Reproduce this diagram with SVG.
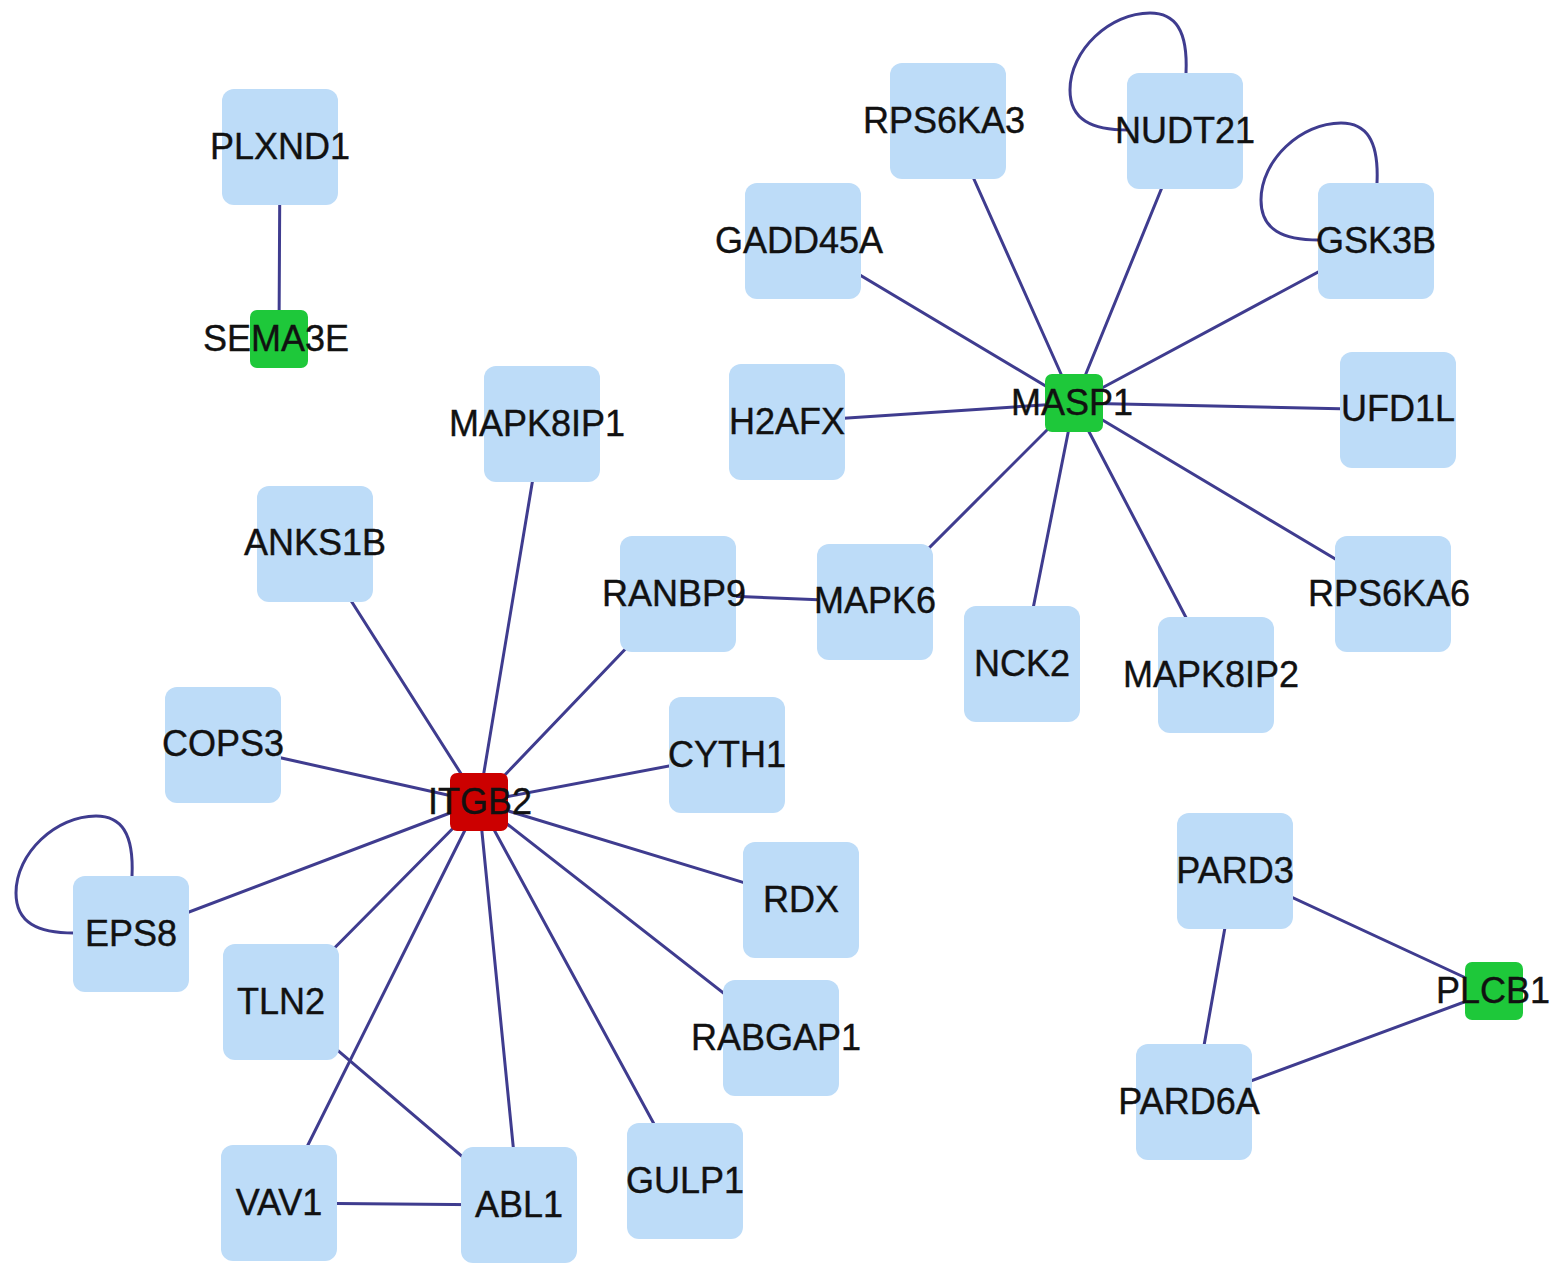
<svg xmlns="http://www.w3.org/2000/svg" width="1559" height="1278" viewBox="0 0 1559 1278">
<style>
.e{stroke:#3f3c8f;stroke-width:3;fill:none;stroke-linecap:round}
.n rect{fill:#bddcf8}
.n rect.g{fill:#1ec83a}
.n rect.r{fill:#cc0000}
.n text{font-family:"Liberation Sans",Arial,sans-serif;font-size:36px;fill:#111;stroke:#111;stroke-width:0.4;text-anchor:middle}
</style>
<defs>
<path id="loop" d="M1186,73 C1188,30 1175,13 1150,13 C1110,13 1070,50 1070,90 C1070,120 1092,130 1128,130"/>
</defs>
<rect width="1559" height="1278" fill="#ffffff"/>
<g id="edges">
<line class="e" x1="280" y1="147" x2="279" y2="339"/>
<line class="e" x1="1074" y1="403" x2="948" y2="121"/>
<line class="e" x1="1074" y1="403" x2="1185" y2="131"/>
<line class="e" x1="1074" y1="403" x2="803" y2="241"/>
<line class="e" x1="1074" y1="403" x2="1376" y2="241"/>
<line class="e" x1="1074" y1="403" x2="787" y2="422"/>
<line class="e" x1="1074" y1="403" x2="1398" y2="410"/>
<line class="e" x1="1074" y1="403" x2="875" y2="602"/>
<line class="e" x1="1074" y1="403" x2="1022" y2="664"/>
<line class="e" x1="1074" y1="403" x2="1216" y2="675"/>
<line class="e" x1="1074" y1="403" x2="1394" y2="594"/>
<line class="e" x1="678" y1="594" x2="875" y2="602"/>
<line class="e" x1="479" y1="802" x2="542" y2="424"/>
<line class="e" x1="479" y1="802" x2="315" y2="544"/>
<line class="e" x1="479" y1="802" x2="678" y2="594"/>
<line class="e" x1="479" y1="802" x2="223" y2="745"/>
<line class="e" x1="479" y1="802" x2="727" y2="755"/>
<line class="e" x1="479" y1="802" x2="131" y2="934"/>
<line class="e" x1="479" y1="802" x2="801" y2="900"/>
<line class="e" x1="479" y1="802" x2="281" y2="1002"/>
<line class="e" x1="479" y1="802" x2="781" y2="1038"/>
<line class="e" x1="479" y1="802" x2="279" y2="1203"/>
<line class="e" x1="479" y1="802" x2="519" y2="1205"/>
<line class="e" x1="479" y1="802" x2="685" y2="1181"/>
<line class="e" x1="281" y1="1002" x2="519" y2="1205"/>
<line class="e" x1="279" y1="1203" x2="519" y2="1205"/>
<line class="e" x1="1235" y1="871" x2="1494" y2="991"/>
<line class="e" x1="1235" y1="871" x2="1194" y2="1102"/>
<line class="e" x1="1194" y1="1102" x2="1494" y2="991"/>
<use href="#loop" class="e"/>
<use href="#loop" class="e" transform="translate(191,110)"/>
<use href="#loop" class="e" transform="translate(-1054,803)"/>
</g>
<g class="n" id="PLXND1"><rect x="222" y="89" width="116" height="116" rx="12"/><text x="280" y="159">PLXND1</text></g>
<g class="n" id="SEMA3E"><rect class="g" x="250" y="310" width="58" height="58" rx="7"/><text x="276" y="351">SEMA3E</text></g>
<g class="n" id="RPS6KA3"><rect x="890" y="63" width="116" height="116" rx="12"/><text x="944" y="133">RPS6KA3</text></g>
<g class="n" id="NUDT21"><rect x="1127" y="73" width="116" height="116" rx="12"/><text x="1185" y="143">NUDT21</text></g>
<g class="n" id="GADD45A"><rect x="745" y="183" width="116" height="116" rx="12"/><text x="799" y="253">GADD45A</text></g>
<g class="n" id="GSK3B"><rect x="1318" y="183" width="116" height="116" rx="12"/><text x="1376" y="253">GSK3B</text></g>
<g class="n" id="H2AFX"><rect x="729" y="364" width="116" height="116" rx="12"/><text x="787" y="434">H2AFX</text></g>
<g class="n" id="MASP1"><rect class="g" x="1045" y="374" width="58" height="58" rx="7"/><text x="1072" y="415">MASP1</text></g>
<g class="n" id="UFD1L"><rect x="1340" y="352" width="116" height="116" rx="12"/><text x="1398" y="421">UFD1L</text></g>
<g class="n" id="MAPK8IP1"><rect x="484" y="366" width="116" height="116" rx="12"/><text x="537" y="436">MAPK8IP1</text></g>
<g class="n" id="ANKS1B"><rect x="257" y="486" width="116" height="116" rx="12"/><text x="315" y="555">ANKS1B</text></g>
<g class="n" id="RANBP9"><rect x="620" y="536" width="116" height="116" rx="12"/><text x="674" y="606">RANBP9</text></g>
<g class="n" id="MAPK6"><rect x="817" y="544" width="116" height="116" rx="12"/><text x="875" y="613">MAPK6</text></g>
<g class="n" id="NCK2"><rect x="964" y="606" width="116" height="116" rx="12"/><text x="1022" y="676">NCK2</text></g>
<g class="n" id="MAPK8IP2"><rect x="1158" y="617" width="116" height="116" rx="12"/><text x="1211" y="687">MAPK8IP2</text></g>
<g class="n" id="RPS6KA6"><rect x="1335" y="536" width="116" height="116" rx="12"/><text x="1389" y="606">RPS6KA6</text></g>
<g class="n" id="COPS3"><rect x="165" y="687" width="116" height="116" rx="12"/><text x="223" y="756">COPS3</text></g>
<g class="n" id="CYTH1"><rect x="669" y="697" width="116" height="116" rx="12"/><text x="727" y="767">CYTH1</text></g>
<g class="n" id="ITGB2"><rect class="r" x="450" y="773" width="58" height="58" rx="7"/><text x="480" y="814">ITGB2</text></g>
<g class="n" id="EPS8"><rect x="73" y="876" width="116" height="116" rx="12"/><text x="131" y="946">EPS8</text></g>
<g class="n" id="RDX"><rect x="743" y="842" width="116" height="116" rx="12"/><text x="801" y="912">RDX</text></g>
<g class="n" id="TLN2"><rect x="223" y="944" width="116" height="116" rx="12"/><text x="281" y="1014">TLN2</text></g>
<g class="n" id="RABGAP1"><rect x="723" y="980" width="116" height="116" rx="12"/><text x="776" y="1050">RABGAP1</text></g>
<g class="n" id="PARD3"><rect x="1177" y="813" width="116" height="116" rx="12"/><text x="1235" y="883">PARD3</text></g>
<g class="n" id="PLCB1"><rect class="g" x="1465" y="962" width="58" height="58" rx="7"/><text x="1493" y="1003">PLCB1</text></g>
<g class="n" id="PARD6A"><rect x="1136" y="1044" width="116" height="116" rx="12"/><text x="1189" y="1114">PARD6A</text></g>
<g class="n" id="VAV1"><rect x="221" y="1145" width="116" height="116" rx="12"/><text x="279" y="1215">VAV1</text></g>
<g class="n" id="ABL1"><rect x="461" y="1147" width="116" height="116" rx="12"/><text x="519" y="1217">ABL1</text></g>
<g class="n" id="GULP1"><rect x="627" y="1123" width="116" height="116" rx="12"/><text x="685" y="1193">GULP1</text></g>
</svg>
